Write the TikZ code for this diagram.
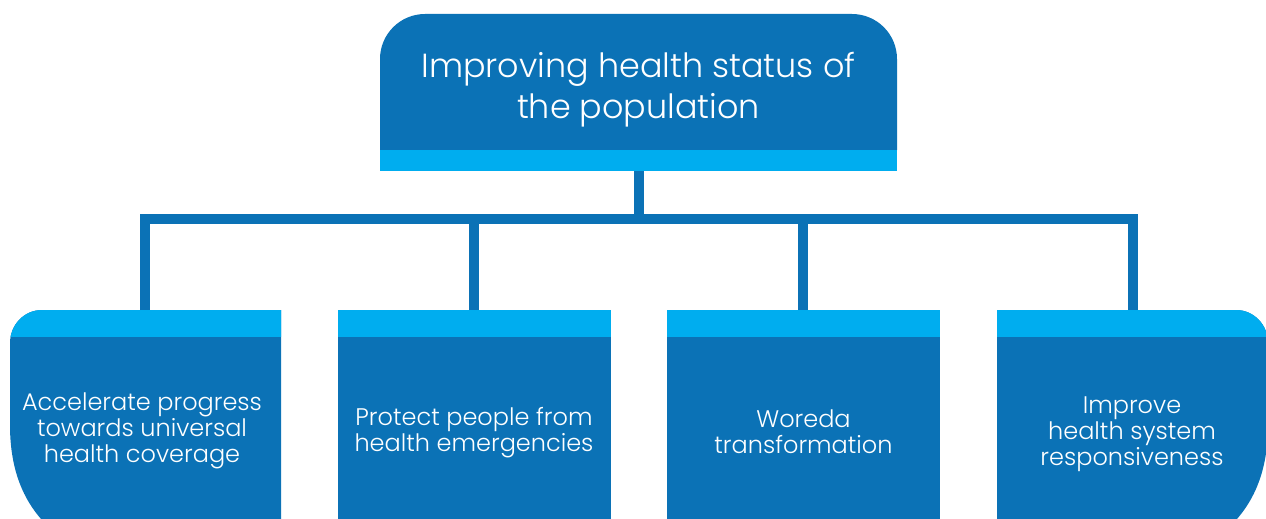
\documentclass[tikz,border=0pt]{standalone}
\usepackage{fontspec}
\setmainfont{Poppins Light}
\definecolor{dkblue}{RGB}{11,114,182}
\definecolor{ltblue}{RGB}{0,173,239}
\begin{document}
\begin{tikzpicture}[x=1pt,y=-1pt,
  conn/.style={draw=dkblue,line width=10pt},
  lbl/.style={text=white,align=center,inner sep=0pt},
  toplbl/.style={lbl,font=\fontsize{33.4}{41}\selectfont},
  boxlbl/.style={lbl,font=\fontsize{24}{26}\selectfont}]
\useasboundingbox (0,0) rectangle (1266,519);
\clip (0,0) rectangle (1266,519);
% top box
\fill[dkblue] (380,150) [rounded corners=45pt] -- (380,14) -- (897,14) [sharp corners] -- (897,150) -- cycle;
\fill[ltblue] (380,150) rectangle (897,171);
\node[toplbl] (top) at (638.5,90) {Improving health status of\\the population};
% bottom boxes
\def\boxA{(281,310) -- (42,310) .. controls (24,310) and (10,325) .. (10,343) -- (10,425) .. controls (10,480) and (30,515) .. (64,540) -- (281,540) -- cycle}
\def\boxB{(338,310) rectangle (611,540)}
\def\boxC{(667,310) rectangle (940,540)}
\def\boxD{(997,310) -- (1236,310) .. controls (1254,310) and (1268,325) .. (1268,343) -- (1268,425) .. controls (1268,480) and (1248,515) .. (1214,540) -- (997,540) -- cycle}
\foreach \shp in {\boxA,\boxB,\boxC,\boxD}{
  \fill[dkblue] \shp;
  \begin{scope}
    \clip (0,310) rectangle (1266,336);
    \fill[ltblue] \shp;
  \end{scope}
}
\node[boxlbl] (b1) at (142,431) {Accelerate progress\\towards universal\\health coverage};
\node[boxlbl] (b2) at (474,433) {Protect people from\\health emergencies};
\node[boxlbl] (b3) at (803.5,431.5) {Woreda\\transformation};
\node[boxlbl] (b4) at (1132,434) {Improve\\health system\\responsiveness};
% connectors
\coordinate (topc) at (638.5,171);
\coordinate (c1) at (145,310);
\coordinate (c2) at (474,310);
\coordinate (c3) at (803,310);
\coordinate (c4) at (1133,310);
\coordinate (bus) at (638.5,219);
\draw[conn] (c1) -- (c1 |- bus) -- (c4 |- bus) -- (c4);
\draw[conn] (topc) -- (bus);
\draw[conn] (c2) -- (c2 |- bus);
\draw[conn] (c3) -- (c3 |- bus);
\end{tikzpicture}
\end{document}
